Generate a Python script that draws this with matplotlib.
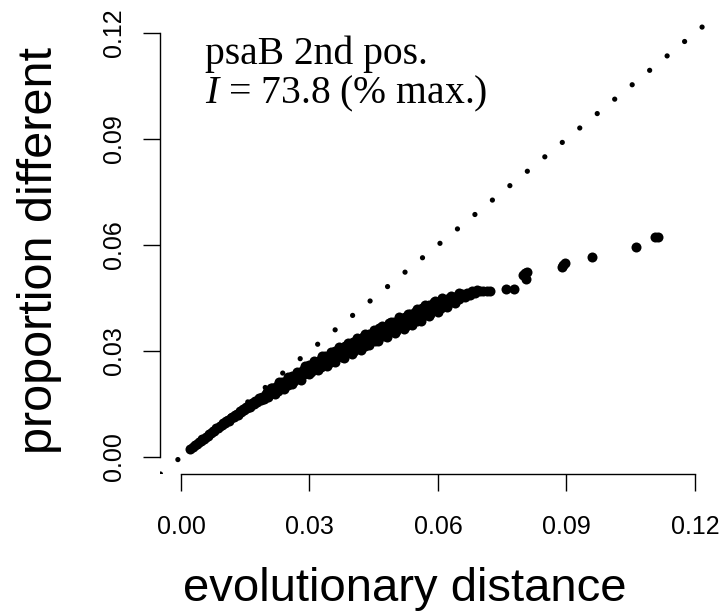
import matplotlib
matplotlib.use("Agg")
import matplotlib.pyplot as plt

# ---------------- data ----------------
x_ticks = [0.00, 0.03, 0.06, 0.09, 0.12]
x_tick_labels = ["0.00", "0.03", "0.06", "0.09", "0.12"]
y_ticks = [0.00, 0.03, 0.06, 0.09, 0.12]
y_tick_labels = ["0.00", "0.03", "0.06", "0.09", "0.12"]
x_label = "evolutionary distance"
y_label = "proportion different"
note_line1 = "psaB 2nd pos."
note_line2 = r"$I$ = 73.8 (% max.)"
XLIM = (-0.0048, 0.1248)
YLIM = (-0.0048, 0.1248)

dist_a = [0.0021, 0.0028, 0.0033, 0.0038, 0.0042, 0.0046, 0.0050, 0.0054, 0.0058, 0.0062,
          0.0066, 0.0070, 0.0074, 0.0078, 0.0082, 0.0086, 0.0090, 0.0095, 0.0099]
prop_a = [0.0022, 0.0027, 0.0034, 0.0037, 0.0043, 0.0045, 0.0051, 0.0052, 0.0058, 0.0060,
          0.0066, 0.0067, 0.0073, 0.0074, 0.0081, 0.0082, 0.0088, 0.0092, 0.0097]

dist_b = [0.0102, 0.0106, 0.0110, 0.0113, 0.0117, 0.0120, 0.0124, 0.0127, 0.0131, 0.0134,
          0.0138, 0.0141, 0.0145, 0.0148, 0.0152, 0.0155, 0.0159, 0.0162, 0.0166, 0.0170,
          0.0174, 0.0178, 0.0182, 0.0186, 0.0190, 0.0194, 0.0198]
prop_b = [0.0095, 0.0101, 0.0106, 0.0103, 0.0111, 0.0114, 0.0112, 0.0120, 0.0122, 0.0119,
          0.0130, 0.0127, 0.0135, 0.0132, 0.0142, 0.0138, 0.0147, 0.0143, 0.0152, 0.0150,
          0.0158, 0.0155, 0.0166, 0.0161, 0.0170, 0.0165, 0.0177]

dist_c = [0.0200, 0.0203, 0.0206, 0.0209, 0.0212, 0.0215, 0.0218, 0.0221, 0.0224, 0.0227,
          0.0230, 0.0233, 0.0236, 0.0239, 0.0242, 0.0245, 0.0248, 0.0251, 0.0254, 0.0257,
          0.0260, 0.0263, 0.0266, 0.0269, 0.0272, 0.0275, 0.0278, 0.0281, 0.0284, 0.0287,
          0.0290, 0.0293, 0.0296, 0.0299]
prop_c = [0.0184, 0.0170, 0.0182, 0.0179, 0.0195, 0.0181, 0.0194, 0.0190, 0.0202, 0.0188,
          0.0200, 0.0196, 0.0212, 0.0199, 0.0212, 0.0208, 0.0219, 0.0205, 0.0217, 0.0214,
          0.0230, 0.0216, 0.0229, 0.0225, 0.0237, 0.0223, 0.0235, 0.0231, 0.0247, 0.0234,
          0.0247, 0.0243, 0.0254, 0.0240]

dist_d = [0.0300, 0.0303, 0.0306, 0.0309, 0.0312, 0.0315, 0.0318, 0.0321, 0.0324, 0.0327,
          0.0330, 0.0333, 0.0336, 0.0339, 0.0342, 0.0345, 0.0348, 0.0351, 0.0354, 0.0357,
          0.0360, 0.0363, 0.0366, 0.0369, 0.0372, 0.0375, 0.0378, 0.0381, 0.0384, 0.0387,
          0.0390, 0.0393, 0.0396, 0.0399]
prop_d = [0.0261, 0.0240, 0.0256, 0.0251, 0.0270, 0.0250, 0.0267, 0.0261, 0.0276, 0.0255,
          0.0270, 0.0265, 0.0285, 0.0265, 0.0282, 0.0276, 0.0290, 0.0269, 0.0285, 0.0280,
          0.0300, 0.0279, 0.0296, 0.0290, 0.0305, 0.0284, 0.0300, 0.0294, 0.0314, 0.0294,
          0.0311, 0.0305, 0.0320, 0.0298]

dist_e = [0.0402, 0.0405, 0.0408, 0.0411, 0.0414, 0.0417, 0.0420, 0.0423, 0.0426, 0.0429,
          0.0432, 0.0435, 0.0438, 0.0441, 0.0444, 0.0447, 0.0450, 0.0453, 0.0456, 0.0459,
          0.0462, 0.0465, 0.0468, 0.0471, 0.0474, 0.0477, 0.0480, 0.0483, 0.0486, 0.0489,
          0.0492, 0.0495, 0.0498]
prop_e = [0.0326, 0.0301, 0.0320, 0.0312, 0.0335, 0.0311, 0.0330, 0.0324, 0.0340, 0.0315,
          0.0334, 0.0326, 0.0349, 0.0325, 0.0344, 0.0338, 0.0355, 0.0329, 0.0348, 0.0340,
          0.0364, 0.0339, 0.0358, 0.0352, 0.0369, 0.0343, 0.0362, 0.0354, 0.0378, 0.0354,
          0.0372, 0.0366, 0.0383]

dist_f = [0.0502, 0.0505, 0.0508, 0.0511, 0.0514, 0.0517, 0.0520, 0.0523, 0.0526, 0.0529,
          0.0532, 0.0535, 0.0538, 0.0541, 0.0544, 0.0547, 0.0550, 0.0554, 0.0558, 0.0562,
          0.0566, 0.0570, 0.0574, 0.0578, 0.0582, 0.0586, 0.0590, 0.0594, 0.0598]
prop_f = [0.0358, 0.0377, 0.0369, 0.0392, 0.0368, 0.0387, 0.0381, 0.0397, 0.0372, 0.0391,
          0.0383, 0.0406, 0.0382, 0.0401, 0.0395, 0.0411, 0.0386, 0.0405, 0.0398, 0.0422,
          0.0398, 0.0418, 0.0412, 0.0429, 0.0405, 0.0424, 0.0416, 0.0441, 0.0417]

dist_g = [0.0602, 0.0606, 0.0610, 0.0614, 0.0618, 0.0622, 0.0626, 0.0630, 0.0635, 0.0640,
          0.0645, 0.0650, 0.0656, 0.0662, 0.0668, 0.0674, 0.0680, 0.0686, 0.0692, 0.0699,
          0.0706, 0.0714, 0.0721]
prop_g = [0.0436, 0.0422, 0.0445, 0.0432, 0.0442, 0.0429, 0.0450, 0.0438, 0.0451, 0.0439,
          0.0457, 0.0447, 0.0461, 0.0452, 0.0465, 0.0459, 0.0469, 0.0464, 0.0472, 0.0469,
          0.0471, 0.0469, 0.0471]

# upper and lower edge of the band
dist_up = [0.0210, 0.0230, 0.0250, 0.0270, 0.0290, 0.0310, 0.0330, 0.0350, 0.0370, 0.0390,
           0.0410, 0.0430, 0.0450, 0.0470, 0.0490, 0.0510, 0.0530, 0.0550, 0.0570, 0.0590,
           0.0610, 0.0630, 0.0650]
prop_up = [0.0195, 0.0211, 0.0227, 0.0241, 0.0257, 0.0272, 0.0285, 0.0298, 0.0311, 0.0323,
           0.0336, 0.0348, 0.0360, 0.0371, 0.0383, 0.0395, 0.0406, 0.0418, 0.0430, 0.0440,
           0.0450, 0.0457, 0.0463]
dist_lo = [0.0220, 0.0240, 0.0260, 0.0280, 0.0300, 0.0320, 0.0340, 0.0360, 0.0380, 0.0400,
           0.0420, 0.0440, 0.0460, 0.0480, 0.0500, 0.0520, 0.0540, 0.0560, 0.0580, 0.0600,
           0.0620, 0.0640]
prop_lo = [0.0179, 0.0192, 0.0206, 0.0219, 0.0234, 0.0245, 0.0257, 0.0269, 0.0281, 0.0292,
           0.0304, 0.0316, 0.0327, 0.0339, 0.0351, 0.0363, 0.0374, 0.0386, 0.0398, 0.0411,
           0.0424, 0.0435]

dist_tail = [0.0758, 0.0778, 0.0799, 0.0803, 0.0807, 0.0805, 0.0890, 0.0893, 0.0897,
             0.0959, 0.1062, 0.1107, 0.1114]
prop_tail = [0.0475, 0.0475, 0.0515, 0.0520, 0.0524, 0.0503, 0.0537, 0.0543, 0.0550,
             0.0567, 0.0595, 0.0624, 0.0624]

dist = dist_a + dist_b + dist_c + dist_d + dist_e + dist_f + dist_g + dist_up + dist_lo + dist_tail
prop = prop_a + prop_b + prop_c + prop_d + prop_e + prop_f + prop_g + prop_up + prop_lo + prop_tail

# ---------------- figure ----------------
plt.rcParams['font.family'] = ['Liberation Sans', 'DejaVu Sans']
plt.rcParams['mathtext.fontset'] = 'custom'
plt.rcParams['mathtext.rm'] = 'Liberation Serif'
plt.rcParams['mathtext.it'] = 'Liberation Serif:italic'
plt.rcParams['lines.scale_dashes'] = False

fig = plt.figure(figsize=(7.27, 6.13), dpi=100)
ax = fig.add_axes([160.4 / 727, 139 / 613, 555.1 / 727, 458 / 613])
ax.set_xlim(*XLIM)
ax.set_ylim(*YLIM)

# y = x reference (dotted)
ax.plot(XLIM, YLIM, color='black', lw=3.8, dashes=(0.01, 16.3),
        dash_capstyle='round', solid_capstyle='round')

ax.scatter(dist, prop, s=52, color='black', linewidths=0, zorder=3)

for s in ('top', 'right'):
    ax.spines[s].set_visible(False)
ax.spines['left'].set_bounds(x_ticks[0], x_ticks[-1])
ax.spines['bottom'].set_bounds(y_ticks[0], y_ticks[-1])
for s in ('left', 'bottom'):
    ax.spines[s].set_linewidth(1.0)

ax.set_xticks(x_ticks)
ax.set_xticklabels(x_tick_labels)
ax.set_yticks(y_ticks)
ax.set_yticklabels(y_tick_labels)
ax.tick_params(axis='both', direction='out', length=12.5, width=1.0, labelsize=18)
ax.tick_params(axis='x', pad=17)
ax.tick_params(axis='y', pad=12.5)
for lab in ax.get_yticklabels():
    lab.set_rotation(90)
    lab.set_va('center')

fig.text(405 / 727, (613 - 601) / 613, x_label, fontsize=34, ha='center', va='baseline')
fig.text(39.5 / 727, (613 - 251) / 613, y_label, fontsize=35, rotation=90,
         ha='center', va='center')

fig.text(205 / 727, (613 - 64) / 613, note_line1, fontsize=28.5,
         family='Liberation Serif', va='baseline')
fig.text(205 / 727, (613 - 103) / 613, note_line2, fontsize=28.5,
         family='Liberation Serif', va='baseline')

fig.savefig('out.png', dpi=100)
